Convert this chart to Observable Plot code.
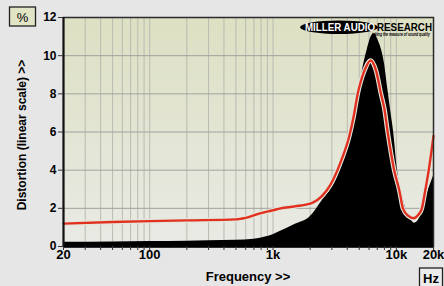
<!DOCTYPE html>
<html><head><meta charset="utf-8">
<script src="https://cdn.jsdelivr.net/npm/d3@7"></script>
<script src="https://cdn.jsdelivr.net/npm/@observablehq/plot@0.6"></script>
<style>
html,body{margin:0;padding:0;background:#e6e6e6;}
#chart{width:444px;height:286px;overflow:hidden;}
svg{display:block;}
</style></head><body><div id="chart"></div>
<script>
// Black filled trace (distortion vs frequency)
const distFreq = [20, 50, 100, 200, 300, 500, 700, 850, 1000, 1150, 1500, 2000, 2500, 3250, 3900, 4400, 4900, 5300, 5800, 6400, 6700, 7000, 7500, 8000, 8500, 9000, 9500, 10200, 11000, 11900, 13000, 14000, 15000, 16000, 17000, 18000, 19000, 20000];
const distPct  = [0.22, 0.24, 0.26, 0.28, 0.3, 0.33, 0.38, 0.48, 0.62, 0.8, 1.15, 1.56, 2.4, 3.5, 4.9, 6.3, 7.8, 9.2, 10.3, 11.1, 11.15, 10.9, 10.4, 9.6, 8.3, 7.1, 6.0, 4.0, 2.9, 2.0, 1.45, 1.22, 1.35, 1.8, 2.4, 2.9, 3.3, 3.7];
// Red line trace
const redFreq = [20, 50, 100, 200, 500, 600, 800, 1000, 1150, 1500, 2100, 2500, 2900, 3570, 4160, 4500, 4860, 5500, 6200, 6850, 7500, 8000, 8500, 9600, 10600, 11300, 12500, 13800, 15000, 16100, 17000, 18300, 20000];
const redPct  = [1.2, 1.28, 1.33, 1.37, 1.42, 1.5, 1.75, 1.9, 2.0, 2.1, 2.3, 2.65, 3.2, 4.5, 5.8, 6.8, 8.0, 9.2, 9.75, 9.2, 8.0, 7.2, 6.0, 4.0, 2.9, 2.0, 1.6, 1.48, 1.65, 2.0, 2.8, 4.0, 5.8];
// Axis ticks
const gridFreqs = [20,30,40,50,60,70,80,90,100,200,300,400,500,600,700,800,900,1000,2000,3000,4000,5000,6000,7000,8000,9000,10000,20000];
const xLabelFreqs = [20, 100, 1000, 10000, 20000];
const xLabelText = ["20", "100", "1k", "10k", "20k"];
const yTicks = [0, 2, 4, 6, 8, 10, 12];
const yGrid = [2, 4, 6, 8, 10];

const distData = distFreq.map((f, i) => ({f, v: distPct[i]}));
const redData = redFreq.map((f, i) => ({f, v: redPct[i]}));
const xLabels = xLabelFreqs.map((f, i) => ({f, t: xLabelText[i]}));

const FONT = "'Liberation Sans', Arial, sans-serif";
const plot = Plot.plot({
  width: 444, height: 286,
  marginLeft: 63, marginRight: 11, marginTop: 17, marginBottom: 40,
  style: {background: "transparent", fontFamily: FONT, fontWeight: "bold", color: "#000", overflow: "visible"},
  x: {type: "log", domain: [20, 20000]},
  y: {domain: [0, 12]},
  marks: [
    Plot.frame({fill: "url(#bgGrad)", stroke: null}),
    Plot.gridX(gridFreqs, {stroke: "#babab2", strokeOpacity: 1, strokeWidth: 1}),
    Plot.gridY(yGrid, {stroke: "#a2a29e", strokeOpacity: 1, strokeWidth: 1}),
    Plot.areaY(distData, {x: "f", y: "v", fill: "#000", curve: "monotone-x"}),
    Plot.lineY(redData, {x: "f", y: "v", stroke: "#e4e6dc", strokeWidth: 4.6, curve: "monotone-x"}),
    Plot.lineY(redData, {x: "f", y: "v", stroke: "#e2301f", strokeWidth: 2.4, curve: "monotone-x"}),
    Plot.frame({stroke: "#2a2a2a", strokeWidth: 1.5}),
    Plot.ruleY([0], {stroke: "#000", strokeWidth: 2.5}),
    Plot.ruleX([20], {stroke: "#111", strokeWidth: 2}),
    Plot.axisX(gridFreqs, {tickSize: 4, tickFormat: () => "", label: null, stroke: "#333"}),
    Plot.text(xLabels, {x: "f", text: "t", frameAnchor: "bottom", dy: 12, fontSize: 13, fontWeight: "bold", fill: "#000"}),
    Plot.axisY(yTicks, {tickSize: 5, tickPadding: 2, fontSize: 12, fontWeight: "bold", label: null, stroke: "#333", fill: "#000"})
  ]
});
document.getElementById("chart").appendChild(plot);

const svg = d3.select(plot);
const defs = svg.insert("defs", ":first-child");
const g = defs.append("linearGradient").attr("id", "bgGrad").attr("x1", 0).attr("y1", 0).attr("x2", 0).attr("y2", 1);
g.append("stop").attr("offset", "0%").attr("stop-color", "#dde0c2");
g.append("stop").attr("offset", "100%").attr("stop-color", "#e9eae5");

function txt(sel) { return sel.append("text").attr("text-anchor", "start").attr("font-family", FONT); }

// Logo
const logo = svg.append("g").attr("text-anchor", "start");
logo.append("ellipse").attr("cx", 339).attr("cy", 27.3).attr("rx", 39).attr("ry", 6.7).attr("fill", "#000");
txt(logo).attr("x", 305).attr("y", 31).attr("fill", "#fff").attr("font-weight", 900).attr("font-size", 10).attr("textLength", 70).attr("lengthAdjust", "spacingAndGlyphs").text("MILLER AUDIO");
txt(logo).attr("x", 377).attr("y", 31).attr("fill", "#000").attr("font-weight", 900).attr("font-size", 10).attr("textLength", 55).attr("lengthAdjust", "spacingAndGlyphs").text("RESEARCH");
txt(logo).attr("x", 372).attr("y", 35.5).attr("fill", "#000").attr("font-style", "italic").attr("font-weight", "bold").attr("font-size", 4.5).attr("textLength", 58).attr("lengthAdjust", "spacingAndGlyphs").text("taking the measure of sound quality");

// Unit boxes
svg.append("rect").attr("x", 9.5).attr("y", 7).attr("width", 26).attr("height", 19).attr("fill", "#e2e4c6").attr("stroke", "#222").attr("stroke-width", 1.3);
svg.append("text").attr("x", 22.5).attr("y", 21.5).attr("text-anchor", "middle").attr("font-family", FONT).attr("font-size", 13).attr("font-weight", "normal").text("%");
svg.append("rect").attr("x", 419.5).attr("y", 268).attr("width", 23).attr("height", 20).attr("fill", "#ececec").attr("stroke", "#222").attr("stroke-width", 1.3);
svg.append("text").attr("x", 431).attr("y", 283).attr("text-anchor", "middle").attr("font-family", FONT).attr("font-size", 13).attr("font-weight", "bold").text("Hz");

// Axis titles
svg.append("text").attr("x", 248).attr("y", 281).attr("text-anchor", "middle").attr("font-family", FONT).attr("font-size", 13).attr("font-weight", "bold").text("Frequency >>");
svg.append("text").attr("transform", "translate(26,135) rotate(-90)").attr("text-anchor", "middle").attr("font-family", FONT).attr("font-size", 12).attr("font-weight", "bold").text("Distortion (linear scale) >>");
</script></body></html>
